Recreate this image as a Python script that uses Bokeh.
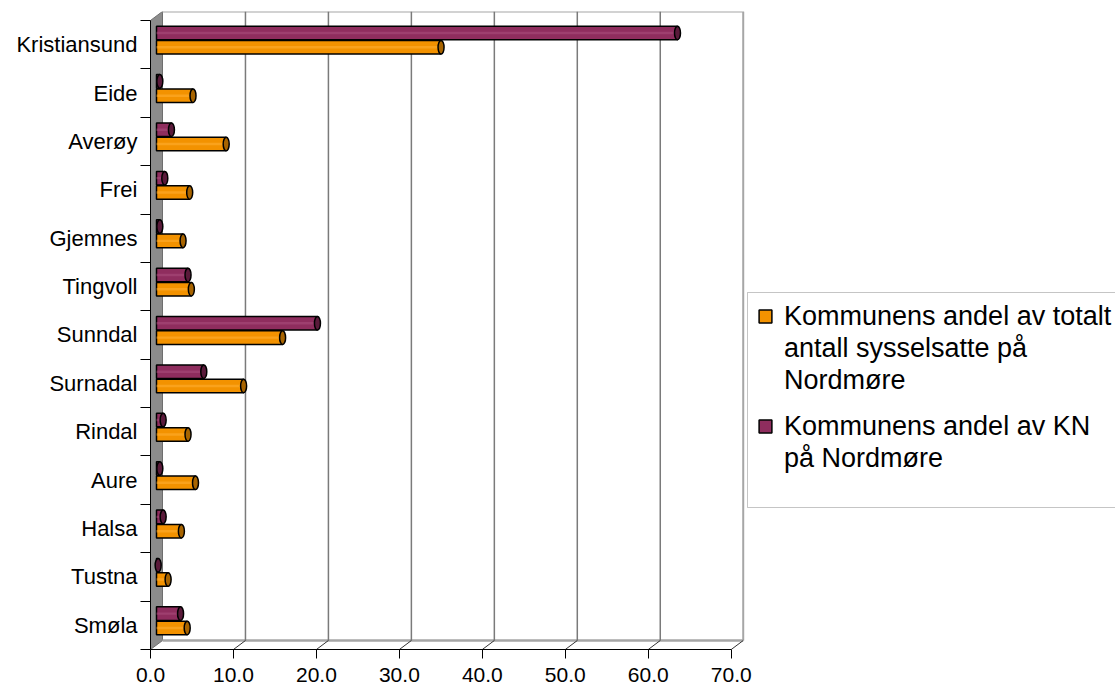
import numpy as np
from bokeh.plotting import figure
from bokeh.models import (ColumnDataSource, Range1d, FixedTicker, Legend, LegendItem,
                          BoxAnnotation)
from bokeh.embed import file_html
from bokeh.resources import INLINE

# ---------------- data ----------------
categories = ["Kristiansund", "Eide", "Averøy", "Frei", "Gjemnes", "Tingvoll",
              "Sunndal", "Surnadal", "Rindal", "Aure", "Halsa", "Tustna", "Smøla"]
share_employed = [34.3, 4.4, 8.4, 4.0, 3.2, 4.2, 15.2, 10.5, 3.8, 4.7, 3.0, 1.4, 3.7]
share_kn = [62.8, 0.4, 1.8, 1.0, 0.4, 3.8, 19.4, 5.7, 0.8, 0.4, 0.8, 0.2, 2.9]
label_employed = ["Kommunens andel av totalt", "antall sysselsatte på", "Nordmøre"]
label_kn = ["Kommunens andel av KN", "på Nordmøre"]
x_ticks = [0, 10, 20, 30, 40, 50, 60, 70]
x_tick_labels = ["0.0", "10.0", "20.0", "30.0", "40.0", "50.0", "60.0", "70.0"]

# ---------------- styling / geometry ----------------
FONT = "Liberation Sans"
ORANGE, ORANGE_HI, ORANGE_CAP = "#F39200", "#FFAE33", "#A86400"
PURPLE, PURPLE_HI, PURPLE_CAP = "#8F2D5E", "#AC4F7E", "#5A1A3A"
W, H = 1115, 687
FRAME_L, FRAME_T, FRAME_B = 150, 11, 38       # borders (px)
N = len(categories)
X_MAX = x_ticks[-1]
PX_PER_X = 8.296
X_END = (W - FRAME_L) / PX_PER_X
Y_END = N + 0.185
PX_PER_Y = (H - FRAME_T - FRAME_B) / Y_END
DX, DY = 12 / PX_PER_X, 9 / PX_PER_Y          # 3-D depth offset in data units
BH = 0.28                                     # bar thickness
OFF = 0.148                                   # offset of the two series within a category

centers = np.array([N - 1 - i + 0.5 for i in range(N)])
bounds_y = list(range(N + 1))

src = ColumnDataSource(dict(
    y_kn=centers + DY / 2 + OFF,
    y_emp=centers + DY / 2 - OFF,
    left=np.full(N, DX / 2),
    r_kn=np.array(share_kn) + DX / 2,
    r_emp=np.array(share_employed) + DX / 2,
))

p = figure(width=W, height=H, output_backend="svg", toolbar_location=None,
           x_range=Range1d(0, X_END), y_range=Range1d(0, Y_END),
           min_border_left=FRAME_L, min_border_right=0, min_border_top=FRAME_T,
           min_border_bottom=FRAME_B,
           outline_line_color=None, background_fill_color="white")
p.grid.visible = False

# ---- 3-D walls ----
p.patch([0, DX, DX, 0], [0, DY, N + DY, N], fill_color="#8C8C8C", line_color="#6E6E6E", line_width=1)
p.line([DX, X_MAX + DX, X_MAX + DX], [N + DY, N + DY, DY], line_color="#A6A6A6", line_width=2)
p.line([DX, X_MAX + DX], [DY, DY], line_color="#A6A6A6", line_width=2.5)
gx = [t + DX for t in x_ticks[1:-1]]
p.segment(x0=gx, y0=[DY] * len(gx), x1=gx, y1=[N + DY] * len(gx), line_color="#7A7A7A", line_width=1.5)
fx = x_ticks[1:]
p.segment(x0=fx, y0=[0] * len(fx), x1=[t + DX for t in fx], y1=[DY] * len(fx),
          line_color="#333333", line_width=1)

# ---- cylinders ----
def cylinder(ycol, rcol, body, hi, cap):
    r = p.hbar(y=ycol, left="left", right=rcol, height=BH, source=src,
               fill_color=body, line_color="black", line_width=1.5)
    p.hbar(y=ycol, left="left", right=rcol, height=BH * 0.18, source=src,
           fill_color=hi, fill_alpha=0.55, line_color=None)
    p.ellipse(x=rcol, y=ycol, width=6, height=BH, width_units="screen", source=src,
              fill_color=cap, line_color="black", line_width=1.5)
    return r

r_kn = cylinder("y_kn", "r_kn", PURPLE, PURPLE_HI, PURPLE_CAP)
r_emp = cylinder("y_emp", "r_emp", ORANGE, ORANGE_HI, ORANGE_CAP)
blank = p.scatter(x=[], y=[], size=1, fill_alpha=0, line_alpha=0)

# ---- axes ----
xa = p.xaxis[0]
xa.ticker = FixedTicker(ticks=x_ticks)
xa.major_label_overrides = {t: l for t, l in zip(x_ticks, x_tick_labels)}
xa.bounds = (0, X_MAX)
xa.major_tick_out = 9
xa.major_tick_in = 0
xa.minor_tick_line_color = None
xa.axis_line_color = "black"
xa.major_tick_line_color = "black"
xa.major_label_standoff = 9
xa.major_label_text_font = FONT
xa.major_label_text_font_size = "21px"
xa.major_label_text_color = "black"

ya = p.yaxis[0]
ya.ticker = FixedTicker(ticks=list(centers), minor_ticks=bounds_y)
ya.major_label_overrides = {float(c): cat for c, cat in zip(centers, categories)}
ya.bounds = (0, N)
ya.major_tick_line_color = None
ya.major_tick_out = 10
ya.major_tick_in = 0
ya.minor_tick_out = 10
ya.minor_tick_in = 0
ya.minor_tick_line_color = "black"
ya.axis_line_color = "black"
ya.major_label_standoff = 3
ya.major_label_text_font = FONT
ya.major_label_text_font_size = "22px"
ya.major_label_text_color = "black"

# ---- legend (box + two stacked legends) ----
frame_bottom_px = H - FRAME_B
def px_x(px):
    return (px - FRAME_L) / PX_PER_X
def px_y(py):
    return (frame_bottom_px - py) / PX_PER_Y

box = BoxAnnotation(left=px_x(747), right=X_END + 5, top=px_y(292), bottom=px_y(507),
                    fill_color="white", fill_alpha=1.0, line_color="#404040", line_width=1)
p.add_layout(box)

LINE_H = 32
def make_legend(lines, swatch, top_px):
    items = [LegendItem(label=lines[0], renderers=[swatch])]
    items += [LegendItem(label=t, renderers=[blank]) for t in lines[1:]]
    bottom_px = top_px + LINE_H * len(lines)
    return Legend(items=items, location=(757 - FRAME_L, frame_bottom_px - bottom_px),
                  orientation="vertical", label_text_font=FONT, label_text_font_size="27px",
                  label_text_color="black", glyph_width=16, glyph_height=16,
                  label_standoff=11, label_height=LINE_H, padding=0, spacing=0, margin=0,
                  border_line_color=None, background_fill_alpha=0)

p.add_layout(make_legend(label_employed, r_emp, 300))
p.add_layout(make_legend(label_kn, r_kn, 410))

open("out.html", "w").write(file_html(p, INLINE))
